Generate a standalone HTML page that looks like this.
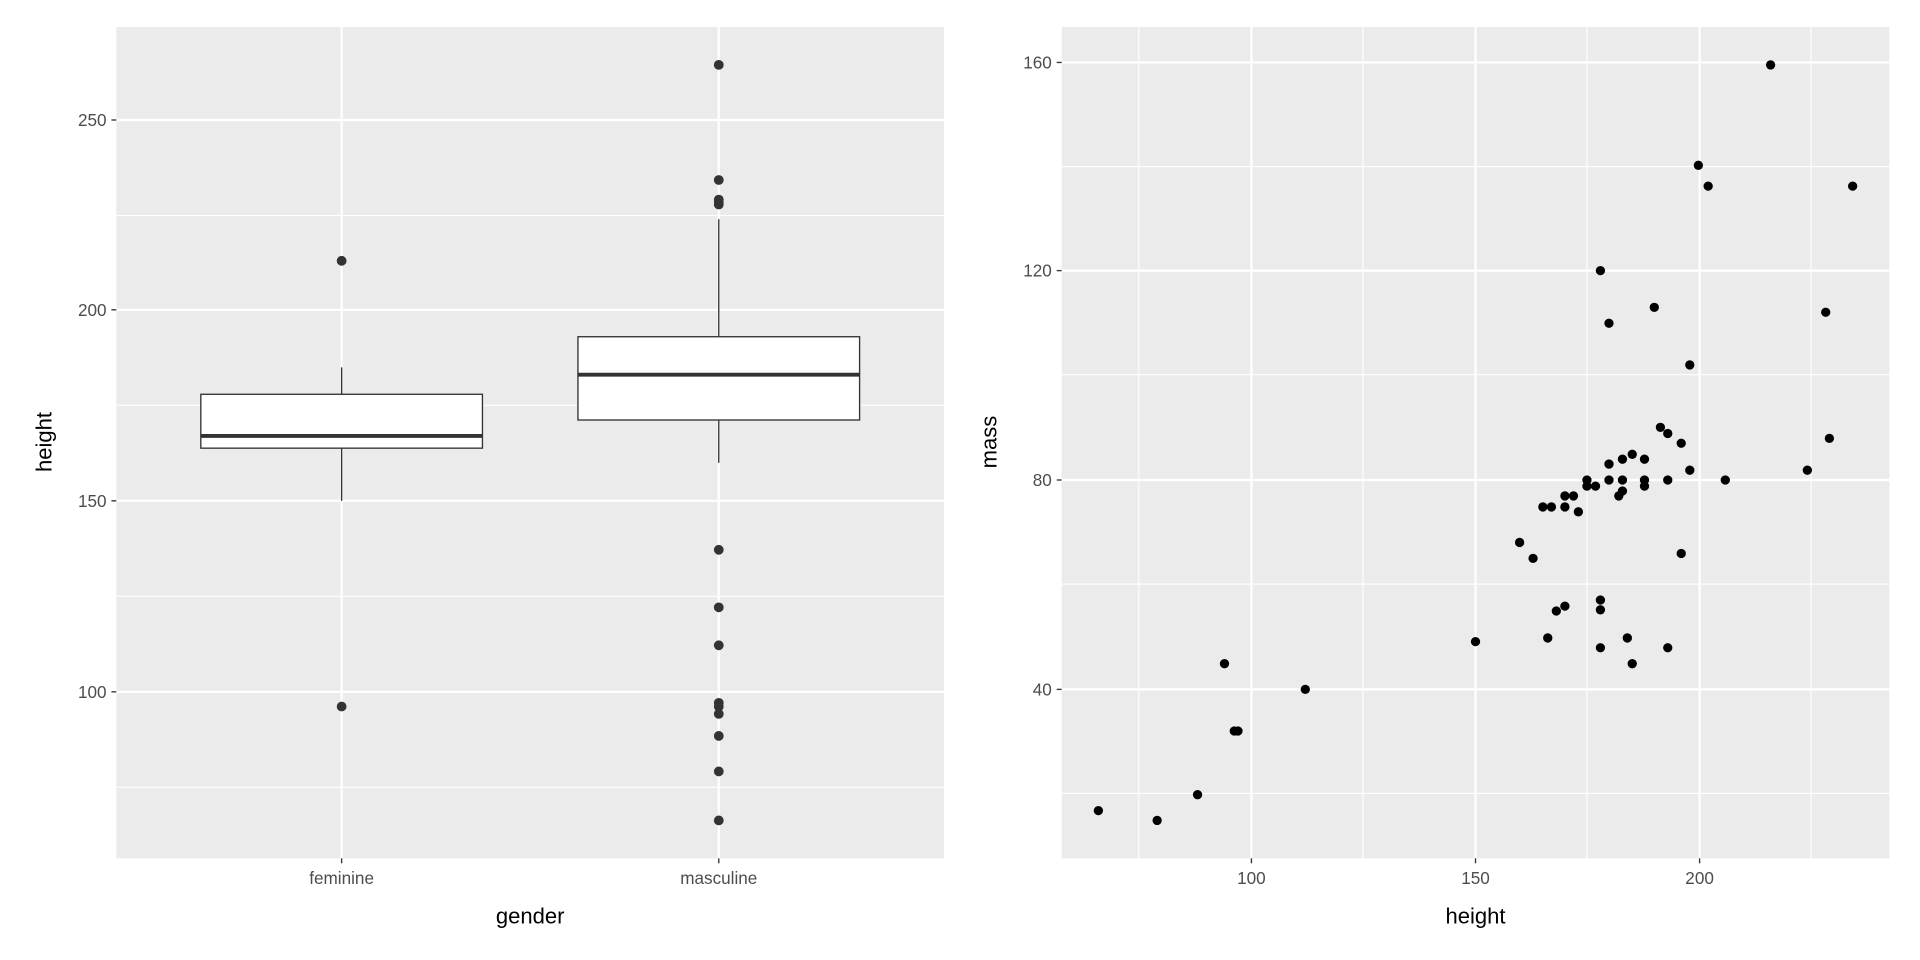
<!DOCTYPE html>
<html><head><meta charset="utf-8"><style>html,body{margin:0;padding:0;background:#fff}svg{display:block}</style></head>
<body>
<svg width="1920" height="960" viewBox="0 0 1568 784" xmlns="http://www.w3.org/2000/svg" font-family="Liberation Sans, sans-serif">
<rect width="1568" height="784" fill="#fff"/>
<!-- Left panel -->
<rect x="95" y="22" width="676" height="679" fill="#EBEBEB"/>
<g stroke="#fff" stroke-width="0.9">
<line x1="95" x2="771" y1="176" y2="176"/><line x1="95" x2="771" y1="331" y2="331"/><line x1="95" x2="771" y1="487" y2="487"/><line x1="95" x2="771" y1="643" y2="643"/>
</g>
<g stroke="#fff" stroke-width="1.8">
<line x1="95" x2="771" y1="98" y2="98"/><line x1="95" x2="771" y1="253" y2="253"/><line x1="95" x2="771" y1="409" y2="409"/><line x1="95" x2="771" y1="565" y2="565"/>
<line x1="279" x2="279" y1="22" y2="701"/><line x1="587" x2="587" y1="22" y2="701"/>
</g>
<g stroke="#333" stroke-width="1.1">
<line x1="279" x2="279" y1="300" y2="322"/><line x1="279" x2="279" y1="366" y2="409"/>
<rect x="164" y="322" width="230" height="44" fill="#fff"/>
<line x1="587" x2="587" y1="179" y2="275"/><line x1="587" x2="587" y1="343" y2="378"/>
<rect x="472" y="275" width="230" height="68" fill="#fff"/>
</g>
<line x1="164" x2="394" y1="356" y2="356" stroke="#333" stroke-width="3.2"/>
<line x1="472" x2="702" y1="306" y2="306" stroke="#333" stroke-width="3.2"/>
<g fill="#333">
<circle cx="279" cy="213" r="4"/><circle cx="279" cy="577" r="4"/>
<circle cx="587" cy="53" r="4"/><circle cx="587" cy="147" r="4"/><circle cx="587" cy="163" r="4"/><circle cx="587" cy="165" r="4"/><circle cx="587" cy="167" r="4"/><circle cx="587" cy="449" r="4"/><circle cx="587" cy="496" r="4"/><circle cx="587" cy="527" r="4"/><circle cx="587" cy="574" r="4"/><circle cx="587" cy="577" r="4"/><circle cx="587" cy="583" r="4"/><circle cx="587" cy="601" r="4"/><circle cx="587" cy="630" r="4"/><circle cx="587" cy="670" r="4"/>
</g>
<g stroke="#333" stroke-width="1.1">
<line x1="91" x2="95" y1="98" y2="98"/><line x1="91" x2="95" y1="253" y2="253"/><line x1="91" x2="95" y1="409" y2="409"/><line x1="91" x2="95" y1="565" y2="565"/>
<line x1="279" x2="279" y1="701" y2="705"/><line x1="587" x2="587" y1="701" y2="705"/>
</g>
<g fill="#4D4D4D" font-size="14" text-anchor="end">
<text x="87" y="103">250</text><text x="87" y="258">200</text><text x="87" y="414">150</text><text x="87" y="570">100</text>
</g>
<g fill="#4D4D4D" font-size="14" text-anchor="middle">
<text x="279" y="722">feminine</text><text x="587" y="722">masculine</text>
</g>
<text x="433" y="754" font-size="18" text-anchor="middle">gender</text>
<text transform="translate(42,361) rotate(-90)" font-size="18" text-anchor="middle">height</text>

<!-- Right panel -->
<rect x="867" y="22" width="676" height="679" fill="#EBEBEB"/>
<g stroke="#fff" stroke-width="0.9">
<line x1="867" x2="1543" y1="136" y2="136"/><line x1="867" x2="1543" y1="306" y2="306"/><line x1="867" x2="1543" y1="477" y2="477"/><line x1="867" x2="1543" y1="648" y2="648"/>
<line x1="930" x2="930" y1="22" y2="701"/><line x1="1113" x2="1113" y1="22" y2="701"/><line x1="1296" x2="1296" y1="22" y2="701"/><line x1="1479" x2="1479" y1="22" y2="701"/>
</g>
<g stroke="#fff" stroke-width="1.8">
<line x1="867" x2="1543" y1="51" y2="51"/><line x1="867" x2="1543" y1="221" y2="221"/><line x1="867" x2="1543" y1="392" y2="392"/><line x1="867" x2="1543" y1="563" y2="563"/>
<line x1="1022" x2="1022" y1="22" y2="701"/><line x1="1205" x2="1205" y1="22" y2="701"/><line x1="1388" x2="1388" y1="22" y2="701"/>
</g>
<g fill="#000">
<circle cx="897" cy="662" r="3.8"/><circle cx="945" cy="670" r="3.8"/><circle cx="978" cy="649" r="3.8"/><circle cx="1000" cy="542" r="3.8"/><circle cx="1008" cy="597" r="3.8"/><circle cx="1011" cy="597" r="3.8"/><circle cx="1066" cy="563" r="3.8"/><circle cx="1205" cy="524" r="3.8"/><circle cx="1241" cy="443" r="3.8"/><circle cx="1252" cy="456" r="3.8"/><circle cx="1260" cy="414" r="3.8"/><circle cx="1267" cy="414" r="3.8"/><circle cx="1264" cy="521" r="3.8"/><circle cx="1271" cy="499" r="3.8"/><circle cx="1278" cy="495" r="3.8"/><circle cx="1278" cy="405" r="3.8"/><circle cx="1278" cy="414" r="3.8"/><circle cx="1285" cy="405" r="3.8"/><circle cx="1289" cy="418" r="3.8"/><circle cx="1296" cy="392" r="3.8"/><circle cx="1296" cy="397" r="3.8"/><circle cx="1303" cy="397" r="3.8"/><circle cx="1307" cy="221" r="3.8"/><circle cx="1314" cy="264" r="3.8"/><circle cx="1307" cy="490" r="3.8"/><circle cx="1307" cy="498" r="3.8"/><circle cx="1307" cy="529" r="3.8"/><circle cx="1314" cy="379" r="3.8"/><circle cx="1314" cy="392" r="3.8"/><circle cx="1322" cy="405" r="3.8"/><circle cx="1325" cy="401" r="3.8"/><circle cx="1325" cy="392" r="3.8"/><circle cx="1325" cy="375" r="3.8"/><circle cx="1329" cy="521" r="3.8"/><circle cx="1333" cy="371" r="3.8"/><circle cx="1333" cy="542" r="3.8"/><circle cx="1343" cy="375" r="3.8"/><circle cx="1343" cy="392" r="3.8"/><circle cx="1343" cy="397" r="3.8"/><circle cx="1351" cy="251" r="3.8"/><circle cx="1356" cy="349" r="3.8"/><circle cx="1362" cy="354" r="3.8"/><circle cx="1362" cy="392" r="3.8"/><circle cx="1362" cy="529" r="3.8"/><circle cx="1373" cy="362" r="3.8"/><circle cx="1373" cy="452" r="3.8"/><circle cx="1380" cy="298" r="3.8"/><circle cx="1380" cy="384" r="3.8"/><circle cx="1387" cy="135" r="3.8"/><circle cx="1395" cy="152" r="3.8"/><circle cx="1409" cy="392" r="3.8"/><circle cx="1446" cy="53" r="3.8"/><circle cx="1476" cy="384" r="3.8"/><circle cx="1491" cy="255" r="3.8"/><circle cx="1494" cy="358" r="3.8"/><circle cx="1513" cy="152" r="3.8"/>
</g>
<g stroke="#333" stroke-width="1.1">
<line x1="863" x2="867" y1="51" y2="51"/><line x1="863" x2="867" y1="221" y2="221"/><line x1="863" x2="867" y1="392" y2="392"/><line x1="863" x2="867" y1="563" y2="563"/>
<line x1="1022" x2="1022" y1="701" y2="705"/><line x1="1205" x2="1205" y1="701" y2="705"/><line x1="1388" x2="1388" y1="701" y2="705"/>
</g>
<g fill="#4D4D4D" font-size="14" text-anchor="end">
<text x="859" y="56">160</text><text x="859" y="226">120</text><text x="859" y="397">80</text><text x="859" y="568">40</text>
</g>
<g fill="#4D4D4D" font-size="14" text-anchor="middle">
<text x="1022" y="722">100</text><text x="1205" y="722">150</text><text x="1388" y="722">200</text>
</g>
<text x="1205" y="754" font-size="18" text-anchor="middle">height</text>
<text transform="translate(814,361) rotate(-90)" font-size="18" text-anchor="middle">mass</text>
</svg>
</body></html>
